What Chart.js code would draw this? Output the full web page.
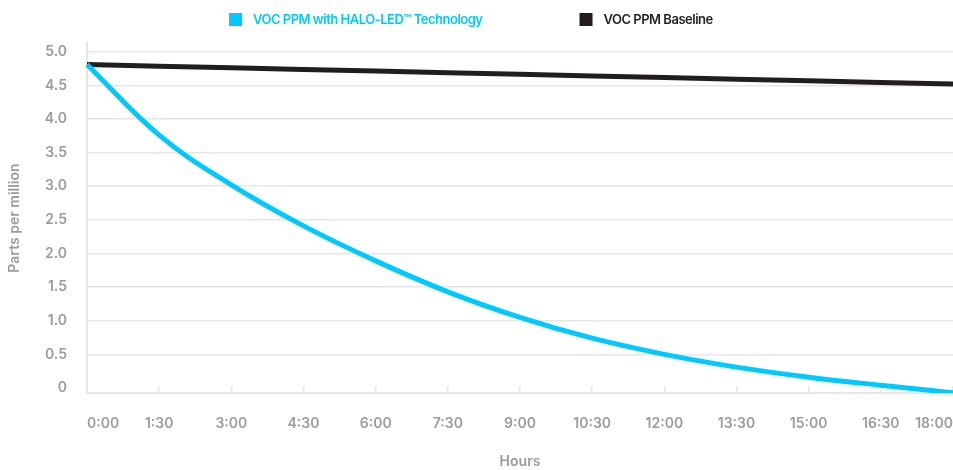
<!DOCTYPE html>
<html>
<head>
<meta charset="utf-8">
<script src="https://cdn.jsdelivr.net/npm/chart.js@4/dist/chart.umd.min.js"></script>
<style>
  html, body { margin: 0; padding: 0; background: #fff; }
  #wrap { width: 953px; height: 470px; }
</style>
</head>
<body>
<div id="wrap"><canvas id="chart"></canvas></div>
<script>
// values
let hours = ["0:00", "1:30", "3:00", "4:30", "6:00", "7:30", "9:00", "10:30", "12:00", "13:30", "15:00", "16:30", "18:00"];
let haloPpm = [4.81, 3.76, 3.02, 2.41, 1.89, 1.43, 1.05, 0.74, 0.5, 0.31, 0.16, 0.04, -0.07];
let baselinePpm = [4.810, 4.786, 4.762, 4.737, 4.713, 4.689, 4.665, 4.641, 4.616, 4.592, 4.568, 4.544, 4.520];
let yTicks = [0, 0.5, 1, 1.5, 2, 2.5, 3, 3.5, 4, 4.5, 5];

let font = "Inter, 'Noto Sans', sans-serif";
let gridColor = "#e6e6e6";
let labelColor = "#9b9b9b";

// legend drawn by hand so the gap between the two items can be wide
let topLegend = {
    id: "topLegend",
    afterDraw(chart) {
        let ctx = chart.ctx;
        ctx.save();
        ctx.font = "600 13px " + font;
        ctx.letterSpacing = "-0.5px";
        ctx.textBaseline = "middle";
        let x = 229;
        let y = 20;
        chart.data.datasets.forEach(ds => {
            ctx.fillStyle = ds.borderColor;
            ctx.fillRect(x, y - 7, 13, 13);
            ctx.fillStyle = ds.legendText;
            ctx.fillText(ds.label, x + 24, y);
            x += 24 + ctx.measureText(ds.label).width + 97;
        });
        ctx.restore();
    }
};

let ctx = document.getElementById("chart").getContext("2d");
new Chart(ctx, {
    type: "line",
    data: {
        labels: hours,
        datasets: [
            {
                label: "VOC PPM with HALO-LED™ Technology",
                data: haloPpm,
                borderColor: "#00c9ff",
                legendText: "#00c9ff",
                borderWidth: 5,
                pointRadius: 0,
                tension: 0.4,
                fill: false
            },
            {
                label: "VOC PPM Baseline",
                data: baselinePpm,
                borderColor: "#221e1f",
                legendText: "#221e1f",
                borderWidth: 5,
                pointRadius: 0,
                tension: 0,
                fill: false
            }
        ]
    },
    options: {
        responsive: true,
        maintainAspectRatio: false,
        animation: false,
        layout: { padding: { top: 43, right: 0, left: 0, bottom: 0 } },
        plugins: {
            legend: { display: false },
            tooltip: { enabled: false }
        },
        scales: {
            x: {
                afterFit(scale) {
                    scale.height = 77;
                    scale.paddingLeft = 0;
                    scale.paddingRight = 0;
                },
                grid: {
                    drawOnChartArea: false,
                    drawTicks: true,
                    tickLength: -7,
                    color: gridColor,
                    lineWidth: 1.5
                },
                border: { display: true, color: gridColor, width: 2 },
                ticks: {
                    autoSkip: false,
                    maxRotation: 0,
                    align: "inner",
                    padding: 29,
                    color: labelColor,
                    font: { family: font, size: 14, weight: "600" }
                },
                title: {
                    display: true,
                    text: "Hours",
                    color: labelColor,
                    padding: { top: 0, bottom: 0 },
                    font: { family: font, size: 14, weight: "600" }
                }
            },
            y: {
                min: -0.075,
                max: 5.13,
                afterFit(scale) { scale.width = 87; },
                afterBuildTicks(scale) {
                    scale.ticks = yTicks.map(v => ({ value: v }));
                },
                grid: {
                    drawTicks: false,
                    lineWidth: 1.5,
                    color: c => (c.tick && c.tick.value === 0 ? "rgba(0,0,0,0)" : gridColor)
                },
                border: { display: true, color: gridColor, width: 2 },
                ticks: {
                    padding: 20,
                    color: labelColor,
                    font: { family: font, size: 14, weight: "600" },
                    callback: v => (v === 0 ? "0" : v.toFixed(1))
                },
                title: {
                    display: true,
                    text: "Parts per million",
                    color: labelColor,
                    padding: { top: 6, bottom: 4 },
                    font: { family: font, size: 14, weight: "600" }
                }
            }
        }
    },
    plugins: [topLegend]
});
</script>
</body>
</html>
